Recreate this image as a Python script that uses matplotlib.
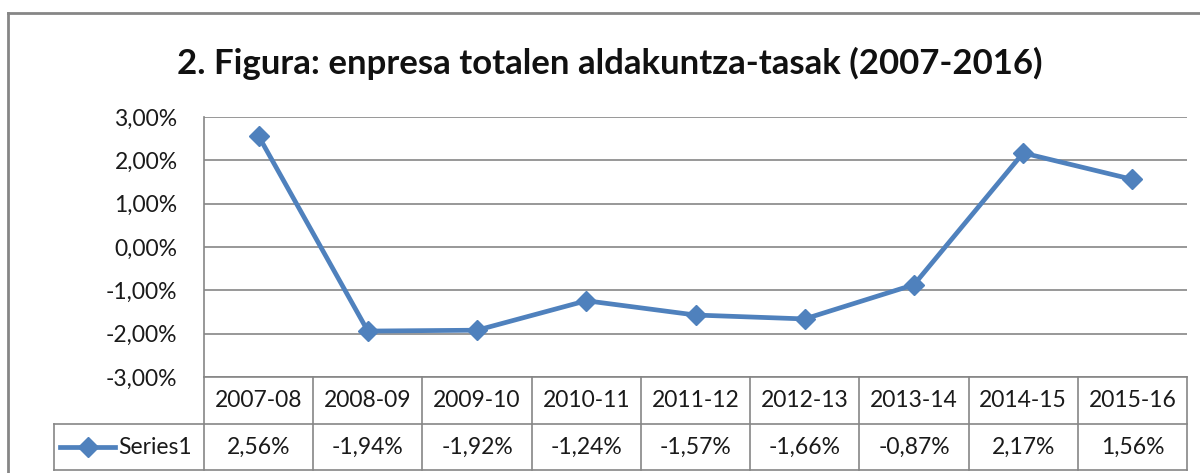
import matplotlib
matplotlib.use("Agg")
import matplotlib.pyplot as plt
from matplotlib.lines import Line2D
from matplotlib.ticker import FuncFormatter

categories = ["2007-08", "2008-09", "2009-10", "2010-11", "2011-12",
              "2012-13", "2013-14", "2014-15", "2015-16"]
values = [2.56, -1.94, -1.92, -1.24, -1.57, -1.66, -0.87, 2.17, 1.56]
series_name = "Series1"
title = "2. Figura: enpresa totalen aldakuntza-tasak (2007-2016)"
yticks = [-3, -2, -1, 0, 1, 2, 3]

plt.rcParams['font.family'] = ['Lato', 'DejaVu Sans']

W, H = 1200, 473
fig = plt.figure(figsize=(W / 100, H / 100), dpi=100)

def fx(px):
    return px / W

def fy(py):
    return 1 - py / H

blue = "#4F81BD"
grid = "#868686"
txt = "#1a1a1a"
fs = 16.5

# outer chart border (extends beyond the image at right/bottom)
fig.add_artist(Line2D([fx(8), fx(8)], [fy(13), fy(480)], color=grid, lw=2, transform=fig.transFigure))
fig.add_artist(Line2D([fx(8), fx(1210)], [fy(13), fy(13)], color=grid, lw=2, transform=fig.transFigure))

# plot area
L, R, T, B = 204, 1187, 117, 377
ax = fig.add_axes([fx(L), fy(B), fx(R) - fx(L), fy(T) - fy(B)])
n = len(categories)
x = list(range(n))
ax.plot(x, values, color=blue, lw=3.4, marker="D", markersize=10, zorder=3)
ax.set_xlim(-0.5, n - 0.5)
ax.set_ylim(-3, 3)
ax.set_yticks(yticks)
ax.yaxis.set_major_formatter(FuncFormatter(lambda v, p: f"{v:.2f}%".replace(".", ",")))
ax.tick_params(axis="y", length=0, pad=19, labelsize=fs, labelcolor=txt)
ax.set_xticks([])
for s in ["top", "right", "bottom"]:
    ax.spines[s].set_visible(False)
ax.spines["left"].set_color(grid)
ax.spines["left"].set_linewidth(1.2)
ax.grid(axis="y", color=grid, lw=1.2)
ax.set_axisbelow(True)

# title
fig.text(fx(610), fy(63), title, ha="center", va="center", fontsize=25, fontweight="bold", color="#111111")

# data table
row1_top, row1_bot, row2_bot = 377, 424, 470
key_left = 54
colw = (R - L) / n
tc = dict(color=grid, lw=1.2, transform=fig.transFigure)
fig.add_artist(Line2D([fx(L), fx(R)], [fy(row1_top), fy(row1_top)], **tc))
fig.add_artist(Line2D([fx(key_left), fx(R)], [fy(row1_bot), fy(row1_bot)], **tc))
fig.add_artist(Line2D([fx(key_left), fx(R)], [fy(row2_bot), fy(row2_bot)], **tc))
fig.add_artist(Line2D([fx(key_left), fx(key_left)], [fy(row1_bot), fy(row2_bot)], **tc))
for i in range(n + 1):
    xp = L + i * colw
    fig.add_artist(Line2D([fx(xp), fx(xp)], [fy(row1_top), fy(row2_bot)], **tc))
for i, (c, v) in enumerate(zip(categories, values)):
    xc = L + (i + 0.5) * colw
    fig.text(fx(xc), fy((row1_top + row1_bot) / 2), c, ha="center", va="center", fontsize=fs, color=txt)
    fig.text(fx(xc), fy((row1_bot + row2_bot) / 2), f"{v:.2f}%".replace(".", ","),
             ha="center", va="center", fontsize=fs, color=txt)
# legend key
ymid = fy((row1_bot + row2_bot) / 2)
fig.add_artist(Line2D([fx(60), fx(115)], [ymid, ymid], color=blue, lw=3.4, transform=fig.transFigure))
fig.add_artist(Line2D([fx(88)], [ymid], color=blue, marker="D", markersize=10, lw=0, transform=fig.transFigure))
fig.text(fx(118), ymid, series_name, ha="left", va="center", fontsize=fs, color=txt)

fig.savefig("out.png", dpi=100)
